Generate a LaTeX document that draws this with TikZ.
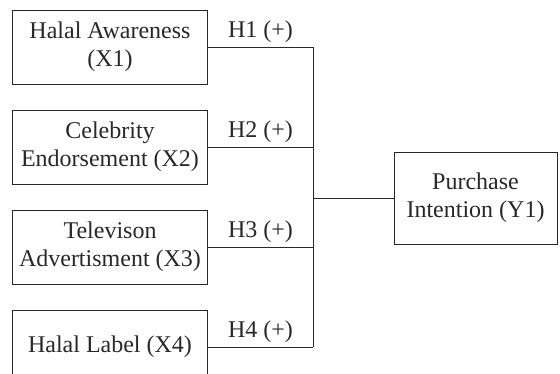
\documentclass[tikz,border=0pt]{standalone}
\usepackage{fontspec}
\setmainfont{Liberation Serif}
\usetikzlibrary{
  calc,
  positioning
}
\definecolor{linegray}{RGB}{40,40,40}

\begin{document}
\begin{tikzpicture}[
  x=1pt, y=-1pt,
  var/.style={draw=linegray, line width=1pt, minimum height=74pt,
              minimum width=195pt, align=center, text=linegray,
              font=\fontsize{24}{28}\selectfont},
  dep/.style={var, minimum width=163pt, minimum height=92pt},
  link/.style={draw=linegray, line width=1pt},
  hyp/.style={above=1pt, text=linegray, font=\fontsize{24}{28}\selectfont},
  node distance=25pt
]
\useasboundingbox (0,0) rectangle (560,373);
\clip (0,0) rectangle (560,373);

\node[var] at (110,47) (x1) {Halal Awareness\\(X1)};
\node[var, below=of x1] (x2) {Celebrity\\Endorsement (X2)};
\node[var, below=of x2] (x3) {Televison\\Advertisment (X3)};
\node[var, below=of x3] (x4) {Halal Label (X4)};
\node[dep] at (475.5,198) (y1) {Purchase\\Intention (Y1)};

\coordinate (bus) at (313,0);

\draw[link] (x1.east) -- (x1.east -| bus) node[hyp, midway] (h1) {H1 (+)};
\draw[link] (x2.east) -- (x2.east -| bus) node[hyp, midway] (h2) {H2 (+)};
\draw[link] (x3.east) -- (x3.east -| bus) node[hyp, midway] (h3) {H3 (+)};
\draw[link] (x4.east) -- (x4.east -| bus) node[hyp, midway] (h4) {H4 (+)};
\draw[link] (x1.east -| bus) -- (x4.east -| bus);
\draw[link] (y1.west -| bus) -- (y1.west);

\end{tikzpicture}
\end{document}
